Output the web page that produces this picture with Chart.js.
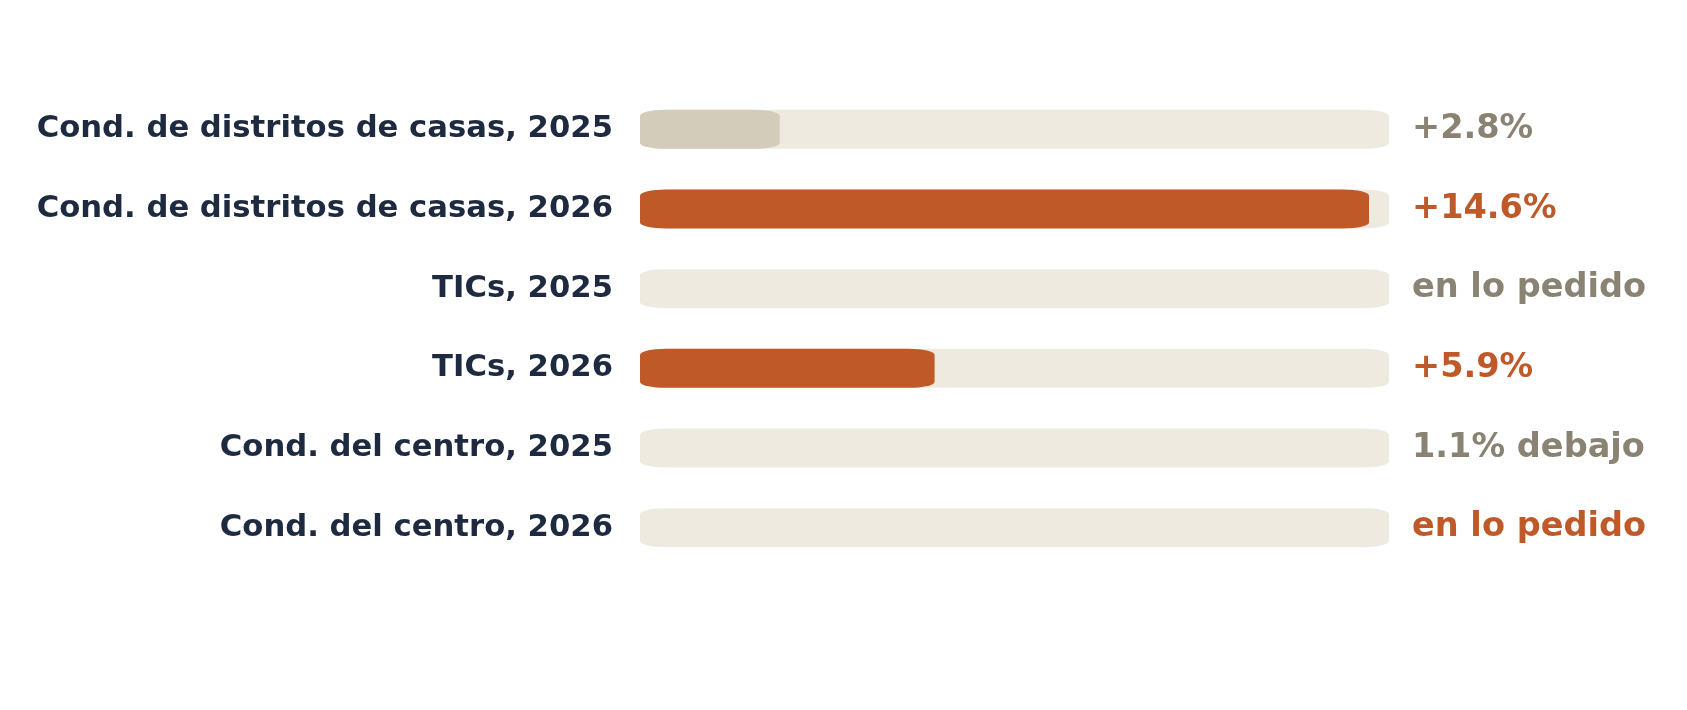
<!DOCTYPE html>
<html>
<head>
<meta charset="utf-8">
<script src="https://cdn.jsdelivr.net/npm/chart.js@4"></script>
<style>
  html, body { margin: 0; padding: 0; background: #ffffff; }
  canvas { display: block; }
</style>
</head>
<body>
<canvas id="myChart" width="1687" height="710"></canvas>
<script>
// rows, top to bottom
const categories = [
  'Cond. de distritos de casas, 2025',
  'Cond. de distritos de casas, 2026',
  'TICs, 2025',
  'TICs, 2026',
  'Cond. del centro, 2025',
  'Cond. del centro, 2026'
];
// change in % (negative / zero rows show no bar)
const changeValues = [2.8, 14.6, 0, 5.9, -1.1, 0];
const changeLabels = ['+2.8%', '+14.6%', 'en lo pedido', '+5.9%', '1.1% debajo', 'en lo pedido'];
const trackMax = 15;

const orange = '#BF5A28';
const tan = '#D4CCBA';
const track = '#EFEAE0';
const grey = '#8A8272';
const navy = '#1E2A3F';

const barColors = categories.map(c => c.endsWith('2026') ? orange : tan);
const textColors = categories.map(c => c.endsWith('2026') ? orange : grey);

const ctx = document.getElementById('myChart').getContext('2d');

// bars with flat elliptical corners instead of round ones
function drawPill(c) {
  const { x, y, base, height } = this.getProps(['x', 'y', 'base', 'height']);
  const left = Math.min(x, base), right = Math.max(x, base);
  const w = right - left;
  if (w < 1) return;
  const top = y - height / 2, bottom = y + height / 2;
  const rx = Math.min(26, w / 2), ry = 6;
  c.save();
  c.fillStyle = this.options.backgroundColor;
  c.beginPath();
  c.moveTo(left + rx, top);
  c.lineTo(right - rx, top);
  c.ellipse(right - rx, top + ry, rx, ry, 0, -Math.PI / 2, 0);
  c.lineTo(right, bottom - ry);
  c.ellipse(right - rx, bottom - ry, rx, ry, 0, 0, Math.PI / 2);
  c.lineTo(left + rx, bottom);
  c.ellipse(left + rx, bottom - ry, rx, ry, 0, Math.PI / 2, Math.PI);
  c.lineTo(left, top + ry);
  c.ellipse(left + rx, top + ry, rx, ry, 0, Math.PI, Math.PI * 1.5);
  c.closePath();
  c.fill();
  c.restore();
}

const pillBars = {
  id: 'pillBars',
  beforeDatasetsDraw(chart) {
    chart.data.datasets.forEach((ds, i) => {
      chart.getDatasetMeta(i).data.forEach(el => { el.draw = drawPill; });
    });
  }
};

// value text on the right of each track
const sideLabels = {
  id: 'sideLabels',
  afterDatasetsDraw(chart) {
    const { ctx, chartArea, scales: { y } } = chart;
    ctx.save();
    ctx.font = 'bold 33.6px "DejaVu Sans"';
    ctx.textBaseline = 'middle';
    ctx.textAlign = 'left';
    changeLabels.forEach((t, i) => {
      ctx.fillStyle = textColors[i];
      ctx.fillText(t, chartArea.right + 23, y.getPixelForValue(i));
    });
    ctx.restore();
  }
};

const myChart = new Chart(ctx, {
  type: 'bar',
  data: {
    labels: categories,
    datasets: [
      {
        label: 'cambio',
        data: changeValues.map(v => Math.max(v, 0)),
        backgroundColor: barColors,
        order: 1
      },
      {
        label: 'pista',
        data: categories.map(() => trackMax),
        backgroundColor: track,
        order: 2
      }
    ]
  },
  options: {
    indexAxis: 'y',
    responsive: false,
    animation: false,
    grouped: false,
    barPercentage: 0.49,
    categoryPercentage: 1,
    layout: {
      padding: { left: 0, right: 298, top: 89.5, bottom: 142.5 }
    },
    scales: {
      x: {
        display: false,
        min: 0,
        max: trackMax
      },
      y: {
        grid: { display: false },
        border: { display: false },
        ticks: {
          color: navy,
          padding: 19,
          font: { family: 'DejaVu Sans', size: 30.7, weight: 'bold' }
        },
        afterFit(scale) { scale.width = 640; }
      }
    },
    plugins: {
      legend: { display: false },
      tooltip: { enabled: false }
    }
  },
  plugins: [pillBars, sideLabels]
});
</script>
</body>
</html>
